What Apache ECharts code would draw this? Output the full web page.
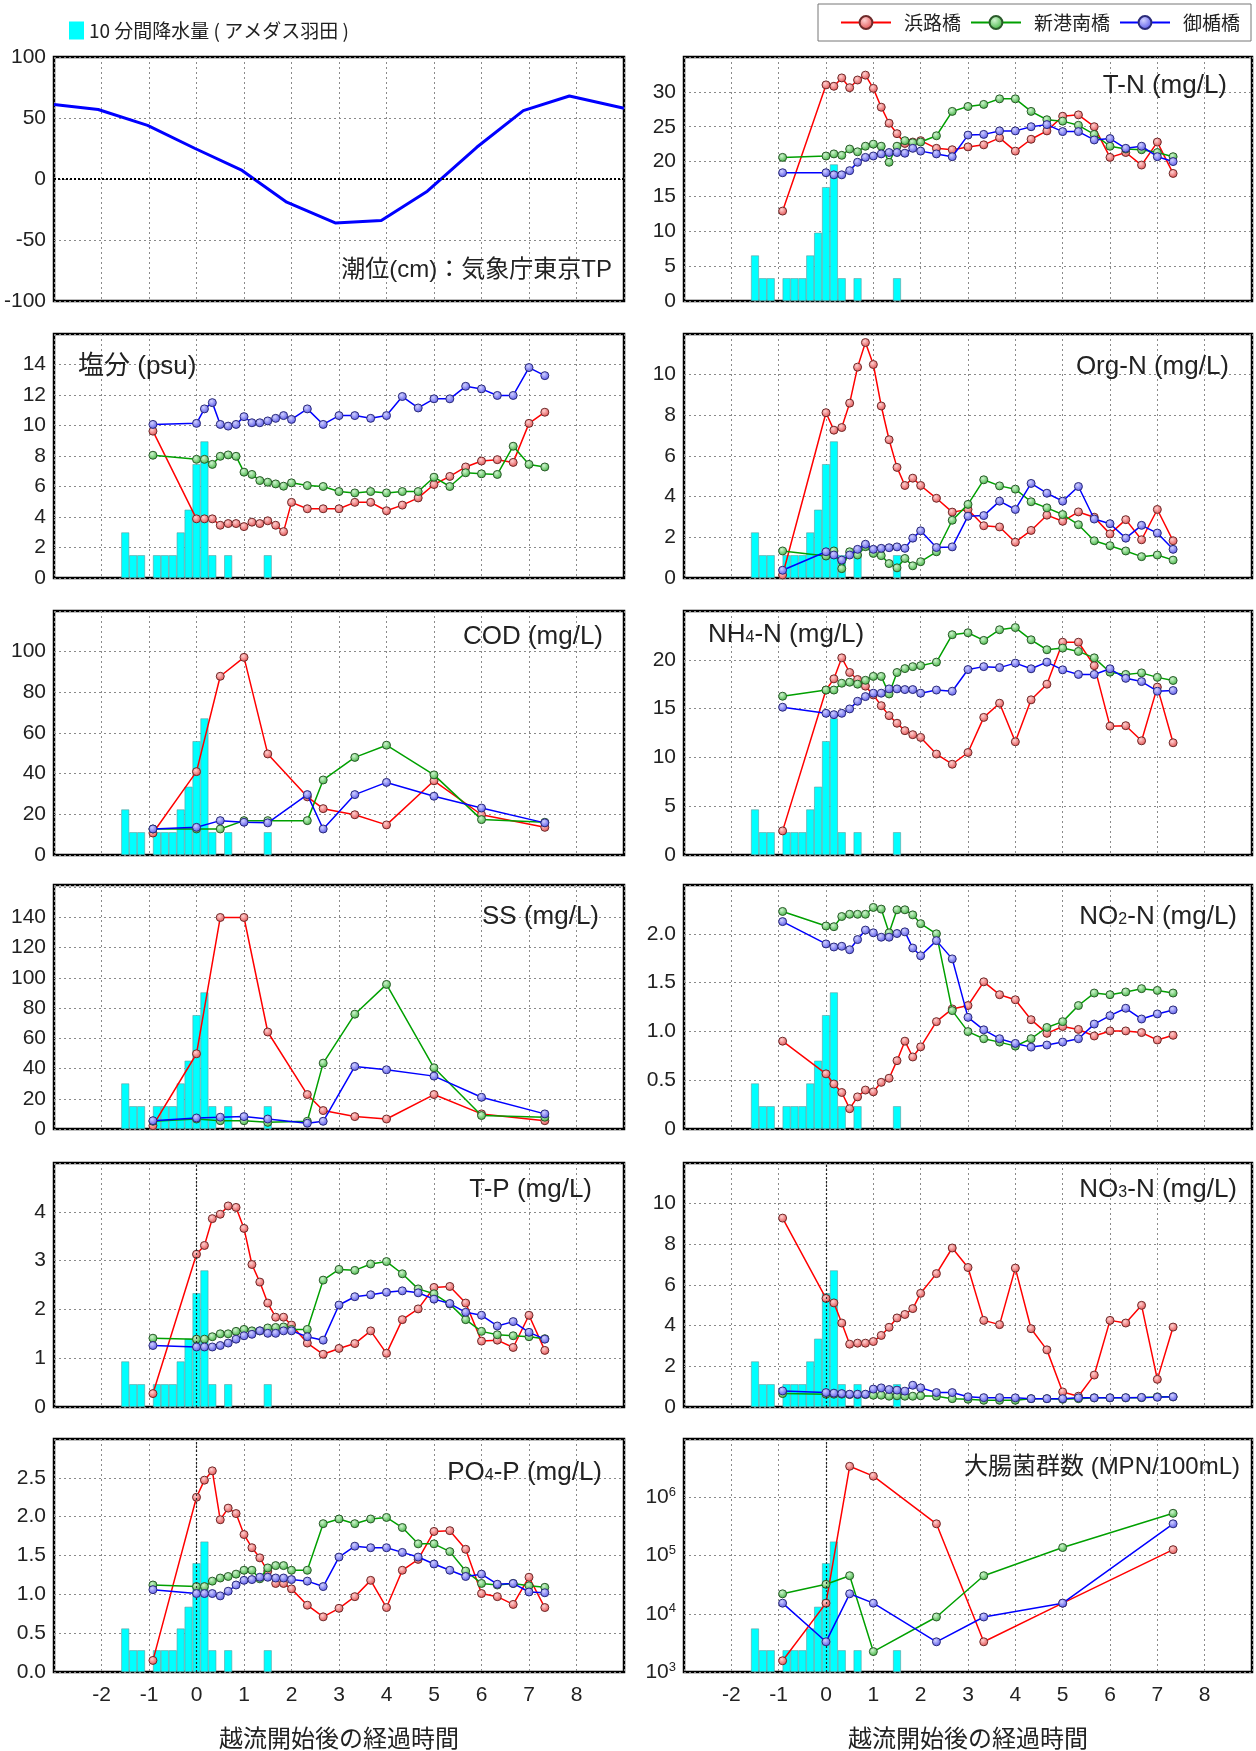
<!DOCTYPE html>
<html><head><meta charset="utf-8">
<script src="https://cdn.jsdelivr.net/npm/echarts@6/dist/echarts.min.js"></script>
<style>html,body{margin:0;padding:0;background:#fff}#c{width:1256px;height:1751px}</style>
</head><body><div id="c"></div>
<script>
// ---- sampling times (hours after overflow start) ----
const T30 = [-0.917, 0, 0.167, 0.333, 0.5, 0.667, 0.833, 1, 1.167, 1.333, 1.5, 1.667, 1.833, 2, 2.333, 2.667, 3, 3.333, 3.667, 4, 4.333, 4.667, 5, 5.333, 5.667, 6, 6.333, 6.667, 7, 7.333];
const T12 = [-0.917, 0, 0.5, 1, 1.5, 2.333, 2.667, 3.333, 4, 5, 6, 7.333];
const T8 = [-0.917, 0, 0.5, 1, 2.333, 3.333, 5, 7.333];

// ---- 10-min rainfall (AMeDAS Haneda), mm ----
const rainTime = [-1.5, -1.333, -1.167, -0.833, -0.667, -0.5, -0.333, -0.167, 0, 0.167, 0.333, 0.667, 1.5];
const rainMm = [1.0, 0.5, 0.5, 0.5, 0.5, 0.5, 1.0, 1.5, 2.5, 3.0, 0.5, 0.5, 0.5];

// ---- tide level (cm, Tokyo TP) ----
const tideTime = [-3.0, -2.07, -1.03, -0.03, 0.96, 1.9, 2.92, 3.89, 4.86, 5.9, 6.88, 7.85, 9.0];
const tideCm = [61, 57, 44, 25, 7, -19, -36, -34, -10, 26, 56, 68, 58];

// ---- T-N ----
const tnHama = [12.9, 31.0, 30.8, 32.0, 30.6, 31.7, 32.4, 30.5, 27.8, 25.5, 24.0, 22.6, 22.8, 23.0, 21.9, 21.7, 22.1, 22.4, 23.4, 21.5, 23.2, 24.4, 26.5, 26.7, 25.0, 20.6, 21.3, 19.5, 22.8, 18.3];
const tnShin = [20.6, 20.8, 21.1, 20.9, 21.8, 21.4, 22.2, 22.5, 22.2, 19.9, 22.2, 23.0, 22.7, 22.8, 23.7, 27.2, 27.9, 28.2, 29.0, 29.0, 27.2, 26.0, 25.8, 25.2, 23.9, 22.2, 21.8, 21.7, 21.3, 20.7];
const tnMita = [18.4, 18.4, 18.1, 18.1, 18.7, 19.9, 20.6, 20.8, 21.1, 21.3, 21.3, 21.2, 21.9, 21.5, 21.1, 20.7, 23.8, 23.9, 24.4, 24.4, 25.0, 25.3, 24.3, 24.3, 23.1, 23.3, 21.9, 22.2, 20.7, 20.0];
// ---- salinity ----
const salHama = [9.63, 3.88, 3.88, 3.88, 3.46, 3.57, 3.57, 3.37, 3.66, 3.57, 3.75, 3.46, 3.04, 4.96, 4.54, 4.54, 4.54, 4.96, 4.96, 4.41, 4.78, 5.25, 6.13, 6.66, 7.28, 7.67, 7.76, 7.58, 10.14, 10.87];
const salShin = [8.05, 7.78, 7.78, 7.45, 7.98, 8.07, 7.98, 6.94, 6.79, 6.39, 6.28, 6.17, 6.02, 6.24, 6.06, 6.0, 5.67, 5.58, 5.67, 5.58, 5.67, 5.67, 6.61, 6.0, 6.9, 6.83, 6.79, 8.64, 7.45, 7.28];
const salMita = [10.07, 10.14, 11.09, 11.5, 10.07, 9.96, 10.07, 10.58, 10.18, 10.18, 10.3, 10.47, 10.65, 10.4, 11.09, 10.07, 10.65, 10.65, 10.47, 10.65, 11.9, 11.15, 11.75, 11.75, 12.57, 12.4, 11.97, 11.97, 13.8, 13.27];
// ---- Org-N ----
const orgHama = [0.15, 8.13, 7.27, 7.4, 8.6, 10.37, 11.58, 10.5, 8.46, 6.8, 5.44, 4.55, 4.91, 4.55, 3.92, 3.24, 3.37, 2.57, 2.51, 1.76, 2.34, 3.09, 2.79, 3.25, 2.99, 2.17, 2.87, 1.88, 3.37, 1.83];
const orgShin = [1.33, 1.08, 1.33, 0.46, 1.29, 1.13, 1.54, 1.21, 1.1, 0.71, 0.5, 0.96, 0.6, 0.8, 1.29, 2.84, 3.62, 4.83, 4.53, 4.37, 3.75, 3.45, 3.12, 2.62, 1.83, 1.59, 1.33, 1.05, 1.13, 0.88];
const orgMita = [0.38, 1.29, 1.13, 0.88, 1.13, 1.41, 1.66, 1.41, 1.46, 1.49, 1.53, 1.46, 1.96, 2.32, 1.5, 1.53, 3.04, 3.07, 3.78, 3.37, 4.65, 4.17, 3.78, 4.5, 2.9, 2.67, 1.96, 2.59, 2.21, 1.41];
// ---- COD ----
const codHama = [10.8, 41, 87.9, 97.2, 49.7, 28.6, 22.8, 19.8, 14.8, 36.5, 19.8, 13.6];
const codShin = [12.8, 12.8, 12.8, 16.9, 16.9, 16.9, 36.9, 48, 54, 39.4, 17.4, 16.1];
const codMita = [12.8, 13.6, 16.9, 16.1, 15.8, 29.7, 12.8, 29.7, 35.7, 28.9, 23.1, 15.8];
// ---- NH4-N ----
const nh4Hama = [2.47, 16.9, 18.05, 20.2, 18.7, 17.98, 17.3, 16.4, 15.3, 14.28, 13.5, 12.74, 12.33, 12.05, 10.34, 9.3, 10.5, 14.1, 15.55, 11.6, 15.9, 17.5, 21.8, 21.8, 19.4, 13.2, 13.25, 11.7, 17.2, 11.5];
const nh4Shin = [16.27, 16.9, 16.9, 17.6, 17.7, 17.5, 17.9, 18.3, 18.3, 16.5, 18.7, 19.1, 19.3, 19.4, 19.76, 22.57, 22.77, 21.99, 23.08, 23.3, 22.05, 21.03, 21.2, 20.86, 20.2, 18.73, 18.5, 18.66, 18.2, 17.88];
const nh4Mita = [15.14, 14.52, 14.38, 14.52, 14.97, 15.75, 16.23, 16.58, 16.58, 17.02, 17.02, 16.95, 16.95, 16.58, 16.9, 16.78, 19.0, 19.3, 19.2, 19.66, 19.08, 19.76, 18.97, 18.5, 18.5, 19.08, 18.1, 17.77, 16.78, 16.85];
// ---- SS ----
const ssHama = [2.2, 49.8, 140, 140, 64.2, 22.8, 12.2, 8.2, 6.6, 22.8, 10.0, 5.5];
const ssShin = [5.1, 6.6, 5.5, 5.5, 4.4, 5.1, 43.6, 76, 95.7, 40.5, 8.9, 7.8];
const ssMita = [5.5, 7.3, 7.8, 8.2, 6.6, 3.8, 5.1, 41.4, 39.2, 35, 21, 10];
// ---- NO2-N ----
const no2Hama = [0.90, 0.565, 0.461, 0.374, 0.208, 0.329, 0.399, 0.381, 0.478, 0.52, 0.70, 0.90, 0.738, 0.842, 1.10, 1.23, 1.265, 1.508, 1.376, 1.324, 1.12, 0.98, 1.05, 1.02, 0.953, 1.005, 1.005, 0.988, 0.912, 0.96];
const no2Shin = [2.229, 2.08, 2.073, 2.177, 2.2, 2.2, 2.2, 2.27, 2.253, 2.01, 2.246, 2.246, 2.194, 2.104, 2.0, 1.213, 0.998, 0.925, 0.89, 0.849, 0.925, 1.04, 1.1, 1.265, 1.393, 1.376, 1.404, 1.438, 1.42, 1.393];
const no2Mita = [2.125, 1.896, 1.865, 1.872, 1.837, 1.941, 2.038, 2.01, 1.965, 1.965, 2.003, 2.02, 1.854, 1.775, 1.93, 1.743, 1.144, 1.016, 0.925, 0.877, 0.839, 0.86, 0.891, 0.925, 1.075, 1.161, 1.237, 1.127, 1.179, 1.22];
// ---- T-P ----
const tpHama = [0.275, 3.13, 3.31, 3.86, 3.95, 4.12, 4.09, 3.66, 2.92, 2.56, 2.13, 1.84, 1.84, 1.68, 1.31, 1.08, 1.2, 1.3, 1.56, 1.1, 1.79, 2.01, 2.45, 2.47, 2.13, 1.35, 1.37, 1.22, 1.88, 1.16];
const tpShin = [1.41, 1.39, 1.39, 1.44, 1.5, 1.5, 1.55, 1.59, 1.56, 1.56, 1.62, 1.63, 1.64, 1.59, 1.59, 2.6, 2.82, 2.8, 2.93, 2.98, 2.73, 2.42, 2.32, 2.11, 1.79, 1.55, 1.48, 1.46, 1.44, 1.4];
const tpMita = [1.26, 1.23, 1.23, 1.23, 1.26, 1.31, 1.39, 1.46, 1.49, 1.56, 1.51, 1.51, 1.56, 1.56, 1.44, 1.37, 2.09, 2.26, 2.3, 2.35, 2.38, 2.34, 2.21, 2.12, 1.94, 1.88, 1.66, 1.75, 1.53, 1.39];
// ---- NO3-N ----
const no3Hama = [9.29, 5.34, 5.12, 4.13, 3.09, 3.14, 3.14, 3.22, 3.52, 3.92, 4.38, 4.55, 4.84, 5.59, 6.56, 7.82, 6.86, 4.26, 4.05, 6.83, 3.85, 2.81, 0.74, 0.53, 1.57, 4.26, 4.13, 5.0, 1.36, 3.93];
const no3Shin = [0.66, 0.63, 0.63, 0.63, 0.61, 0.61, 0.61, 0.58, 0.58, 0.53, 0.55, 0.53, 0.53, 0.55, 0.53, 0.41, 0.38, 0.33, 0.33, 0.33, 0.41, 0.41, 0.38, 0.41, 0.45, 0.45, 0.45, 0.46, 0.5, 0.5];
const no3Mita = [0.79, 0.71, 0.68, 0.66, 0.63, 0.63, 0.63, 0.88, 0.94, 0.86, 0.83, 0.78, 1.07, 0.94, 0.71, 0.71, 0.5, 0.46, 0.46, 0.45, 0.41, 0.41, 0.41, 0.45, 0.45, 0.45, 0.46, 0.47, 0.48, 0.5];
// ---- PO4-P ----
const po4Hama = [0.149, 2.25, 2.47, 2.59, 1.96, 2.11, 2.04, 1.77, 1.6, 1.47, 1.3, 1.14, 1.14, 1.07, 0.86, 0.71, 0.82, 0.97, 1.18, 0.83, 1.31, 1.45, 1.81, 1.82, 1.58, 1.01, 0.97, 0.87, 1.22, 0.83];
const po4Shin = [1.12, 1.1, 1.1, 1.17, 1.21, 1.23, 1.26, 1.31, 1.31, 1.2, 1.34, 1.37, 1.37, 1.31, 1.31, 1.91, 1.97, 1.91, 1.97, 1.99, 1.86, 1.65, 1.65, 1.55, 1.3, 1.14, 1.12, 1.14, 1.11, 1.09];
const po4Mita = [1.06, 1.01, 1.01, 1.01, 0.98, 1.04, 1.12, 1.18, 1.19, 1.22, 1.22, 1.21, 1.21, 1.19, 1.17, 1.1, 1.48, 1.62, 1.6, 1.6, 1.54, 1.48, 1.39, 1.31, 1.23, 1.26, 1.13, 1.14, 1.03, 1.02];
// ---- coliform groups (MPN/100mL) ----
const ecHama = [1560, 15200, 3400000, 2300000, 350000, 3300, 15200, 126000];
const ecShin = [22000, 32000, 45000, 2240, 8800, 45000, 137000, 530000];
const ecMita = [15200, 3300, 22000, 15200, 3300, 8800, 15200, 350000];

const STATIONS = ['浜路橋', '新港南橋', '御楯橋'];
const RAIN_NAME = '10 分間降水量 ( アメダス羽田 )';
const X_TITLE = '越流開始後の経過時間';

// ---- layout / styling ----
const FONT_NUM = "'Liberation Sans',Arial,sans-serif";
const FONT_TXT = "'Liberation Sans','Noto Sans CJK JP',sans-serif";
const FONT_CJK = "'Noto Sans CJK JP','Liberation Sans',sans-serif";
const GRID_TOPS = [57, 334, 611, 885, 1163, 1439];
const GRID_H = 244;
const COLS = [{ left: 54, width: 570 }, { left: 684, width: 568 }];
const RAIN_MAX = 5.36;
const ST = [
  { line: '#ff0000', hi: '#ffd0d0', fill: '#e04848', edge: '#6e2a2a' },
  { line: '#00a000', hi: '#d0f4d0', fill: '#38b038', edge: '#2a5a2a' },
  { line: '#0000ff', hi: '#d0d0ff', fill: '#5050e8', edge: '#2a2a78' }
];

const panels = [
  { col: 0, row: 0, tide: true, min: -100, max: 100, interval: 50, showMax: true, title: '潮位(cm)：気象庁東京TP', tx: 612, ty: 270, ta: 'right', fs: 24 },
  { col: 1, row: 0, t: T30, d: [tnHama, tnShin, tnMita], min: 0, max: 35, interval: 5, title: 'T-N (mg/L)', tx: 1227, ty: 86, ta: 'right' },
  { col: 0, row: 1, t: T30, d: [salHama, salShin, salMita], min: 0, max: 16, interval: 2, title: '塩分 (psu)', tx: 78, ty: 367, ta: 'left' },
  { col: 1, row: 1, t: T30, d: [orgHama, orgShin, orgMita], min: 0, max: 12, interval: 2, title: 'Org-N (mg/L)', tx: 1229, ty: 367, ta: 'right' },
  { col: 0, row: 2, t: T12, d: [codHama, codShin, codMita], min: 0, max: 120, interval: 20, title: 'COD (mg/L)', tx: 603, ty: 637, ta: 'right' },
  { col: 1, row: 2, t: T30, d: [nh4Hama, nh4Shin, nh4Mita], min: 0, max: 25, interval: 5, title: '{n|NH}{s|4}{n|-N (mg/L)}', tx: 708, ty: 635, ta: 'left' },
  { col: 0, row: 3, t: T12, d: [ssHama, ssShin, ssMita], min: 0, max: 161.5, interval: 20, fmt: v => v > 150 ? '' : String(v), title: 'SS (mg/L)', tx: 599, ty: 917, ta: 'right' },
  { col: 1, row: 3, t: T30, d: [no2Hama, no2Shin, no2Mita], min: 0, max: 2.5, interval: 0.5, fmt: v => v === 0 ? '0' : v.toFixed(1), title: '{n|NO}{s|2}{n|-N (mg/L)}', tx: 1237, ty: 917, ta: 'right' },
  { col: 0, row: 4, t: T30, d: [tpHama, tpShin, tpMita], min: 0, max: 5, interval: 1, title: 'T-P (mg/L)', tx: 592, ty: 1190, ta: 'right', zero: true },
  { col: 1, row: 4, t: T30, d: [no3Hama, no3Shin, no3Mita], min: 0, max: 12, interval: 2, title: '{n|NO}{s|3}{n|-N (mg/L)}', tx: 1237, ty: 1190, ta: 'right', zero: true },
  { col: 0, row: 5, t: T30, d: [po4Hama, po4Shin, po4Mita], min: 0, max: 3, interval: 0.5, fmt: v => v.toFixed(1), title: '{n|PO}{s|4}{n|-P (mg/L)}', tx: 602, ty: 1473, ta: 'right', zero: true },
  { col: 1, row: 5, t: T8, d: [ecHama, ecShin, ecMita], log: true, min: 1e3, max: 1e7, title: '大腸菌群数 (MPN/100mL)', tx: 1240, ty: 1467, ta: 'right', zero: true, fs: 24 }
];

const pts = (t, v) => t.map((x, i) => [x, v[i]]);
const gridLine = { show: true, lineStyle: { color: '#8a8a8a', type: [2, 3], width: 1 } };

const grid = [], xAxis = [], yAxis = [], series = [], graphic = [];
panels.forEach((p, i) => {
  const c = COLS[p.col];
  grid.push({ left: c.left, width: c.width, top: GRID_TOPS[p.row], height: GRID_H, show: true, borderColor: '#000', borderWidth: 2.5, backgroundColor: 'transparent' });
  const bottom = p.row === 5;
  xAxis.push({
    type: 'value', gridIndex: i, min: -3, max: 9, interval: 1,
    axisLine: { show: false }, axisTick: { show: false }, splitLine: gridLine,
    axisLabel: { show: bottom, showMinLabel: false, showMaxLabel: false, fontFamily: FONT_NUM, fontSize: 21, color: '#222', margin: 13 },
    name: bottom ? X_TITLE : '', nameLocation: 'middle', nameGap: 54,
    nameTextStyle: { fontFamily: FONT_CJK, fontSize: 24, color: '#222' }
  });
  const yLabel = { fontFamily: FONT_NUM, fontSize: 21, color: '#222', margin: 8, showMaxLabel: !!p.showMax };
  if (p.fmt) yLabel.formatter = p.fmt;
  if (p.log) {
    yLabel.formatter = v => '{b|10}{e|' + Math.round(Math.log10(v)) + '}';
    yLabel.rich = { b: { fontFamily: FONT_NUM, fontSize: 21, color: '#222' }, e: { fontFamily: FONT_NUM, fontSize: 13, color: '#222', verticalAlign: 'top', padding: [0, 0, 10, 0] } };
    yAxis.push({ type: 'log', logBase: 10, gridIndex: i, min: p.min, max: p.max, axisLine: { show: false }, axisTick: { show: false }, splitLine: gridLine, minorSplitLine: { show: false }, axisLabel: yLabel });
  } else {
    yAxis.push({ type: 'value', gridIndex: i, min: p.min, max: p.max, interval: p.interval, axisLine: { show: false }, axisTick: { show: false }, splitLine: gridLine, axisLabel: yLabel });
  }
  yAxis.push({ type: 'value', gridIndex: i, min: 0, max: RAIN_MAX, show: false, splitLine: { show: false } });

  const bar = {
    type: 'bar', name: RAIN_NAME, xAxisIndex: i, yAxisIndex: 2 * i + 1, barWidth: 7.9, z: 2,
    itemStyle: { color: '#00ffff', borderColor: '#5f9c9c', borderWidth: 0.6 },
    data: pts(rainTime, rainMm)
  };
  if (p.zero) {
    bar.markLine = { silent: true, symbol: 'none', label: { show: false }, lineStyle: { color: '#222', type: [2, 2], width: 1.2 }, data: [{ xAxis: 0 }] };
  }
  if (!p.tide) series.push(bar);

  if (p.tide) {
    series.push({
      type: 'line', name: '潮位', xAxisIndex: i, yAxisIndex: 2 * i, symbol: 'none', z: 3,
      lineStyle: { color: '#0000ff', width: 3 }, data: pts(tideTime, tideCm),
      markLine: { silent: true, symbol: 'none', label: { show: false }, lineStyle: { color: '#000', type: [2, 2], width: 2 }, data: [{ yAxis: 0 }] }
    });
  } else {
    p.d.forEach((vals, k) => {
      const s = ST[k];
      series.push({
        type: 'line', name: STATIONS[k], xAxisIndex: i, yAxisIndex: 2 * i, z: 3 + k,
        symbol: 'circle', symbolSize: 8,
        lineStyle: { color: s.line, width: 1.5 },
        itemStyle: { color: { type: 'radial', x: 0.4, y: 0.35, r: 0.7, colorStops: [{ offset: 0, color: s.hi }, { offset: 1, color: s.fill }] }, borderColor: s.edge, borderWidth: 1 },
        data: pts(p.t, vals)
      });
    });
  }

  const fs = p.fs || 26;
  graphic.push({
    type: 'text', x: p.tx, y: p.ty, z: 50,
    style: {
      text: p.title, fill: '#222', font: fs + 'px ' + FONT_TXT,
      align: p.ta, verticalAlign: 'middle', textAlign: p.ta, textVerticalAlign: 'middle',
      rich: { n: { fontSize: fs, fontFamily: FONT_TXT, fill: '#222' }, s: { fontSize: Math.round(fs * 0.6), fontFamily: FONT_TXT, fill: '#222', verticalAlign: 'bottom', padding: [0, 0, 2, 0] } }
    }
  });
});

const chart = echarts.init(document.getElementById('c'), null, { renderer: 'canvas' });
chart.setOption({
  animation: false,
  backgroundColor: '#fff',
  textStyle: { fontFamily: FONT_TXT },
  legend: [
    {
      data: STATIONS, left: 818, top: 4, padding: [9, 11, 9, 22], itemGap: 9, itemWidth: 50, itemHeight: 16,
      borderColor: '#777', borderWidth: 1, selectedMode: false,
      textStyle: { fontSize: 19, fontFamily: FONT_CJK, color: '#222', padding: [0, 0, 0, 8] }
    },
    {
      data: [{ name: RAIN_NAME, icon: 'rect' }], left: 69, top: 21, padding: 0, itemWidth: 15, itemHeight: 18, selectedMode: false,
      itemStyle: { borderWidth: 0 },
      textStyle: { fontSize: 19, fontFamily: FONT_CJK, color: '#222' }
    }
  ],
  grid, xAxis, yAxis, series, graphic
});
</script>
</body></html>
